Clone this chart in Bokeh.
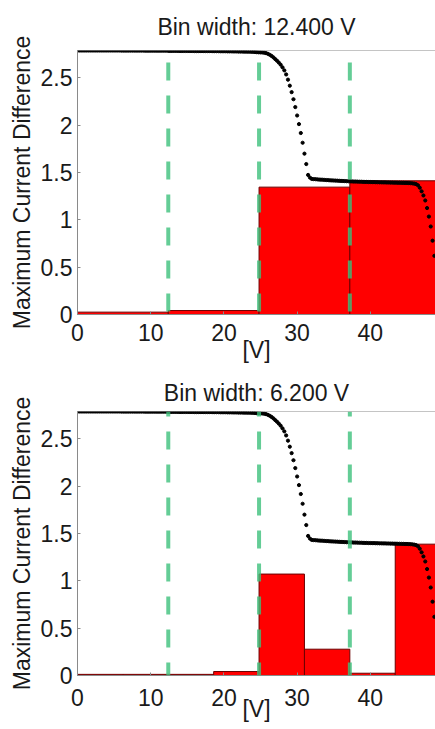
from bokeh.plotting import figure
from bokeh.layouts import column
from bokeh.models import (Range1d, FixedTicker, CustomJSTickFormatter,
                          Whisker, ColumnDataSource, Span)
from bokeh.embed import file_html
from bokeh.resources import INLINE
import numpy as np

# ---------------- data ----------------
sweep_step = 0.25  # V between sweep samples
current_diff = [
    # 0 .. 5.75 V
    2.790, 2.790, 2.790, 2.790, 2.790, 2.790, 2.790, 2.790, 2.790, 2.790, 2.790, 2.790,
    2.790, 2.790, 2.790, 2.790, 2.790, 2.790, 2.790, 2.790, 2.790, 2.790, 2.790, 2.790,
    # 6 .. 12.25 V
    2.789, 2.789, 2.789, 2.789, 2.789, 2.789, 2.789, 2.789, 2.789, 2.789, 2.789, 2.789, 2.789,
    2.788, 2.788, 2.788, 2.788, 2.788, 2.788, 2.788, 2.788, 2.788, 2.788, 2.788, 2.788, 2.788,
    # 12.5 .. 18.25 V
    2.786, 2.786, 2.786, 2.786, 2.786, 2.786, 2.785, 2.785, 2.785, 2.785, 2.785, 2.785,
    2.785, 2.785, 2.784, 2.784, 2.784, 2.784, 2.784, 2.784, 2.784, 2.784, 2.784, 2.784,
    # 18.5 .. 24.0 V
    2.783, 2.783, 2.783, 2.783, 2.782, 2.782, 2.782, 2.782, 2.781, 2.781, 2.781, 2.780,
    2.780, 2.780, 2.779, 2.779, 2.779, 2.778, 2.778, 2.777, 2.777, 2.776, 2.776,
    # 24.25 .. 32.0 V
    2.774, 2.772, 2.771, 2.770, 2.769, 2.767, 2.762, 2.755, 2.745, 2.733, 2.718, 2.700,
    2.682, 2.662, 2.640, 2.612, 2.580, 2.537, 2.482, 2.418, 2.350, 2.275, 2.192, 2.103,
    2.012, 1.918, 1.815, 1.700, 1.590, 1.475, 1.447, 1.433,
    # 32.25 .. 45.75 V
    1.431, 1.430, 1.428, 1.426, 1.425, 1.424, 1.422, 1.421, 1.420, 1.418, 1.417, 1.416,
    1.415, 1.414, 1.413, 1.412, 1.411, 1.410, 1.409, 1.408, 1.407, 1.406, 1.405, 1.405,
    1.404, 1.403, 1.403, 1.402, 1.401, 1.401, 1.400, 1.400, 1.399, 1.399, 1.398, 1.398,
    1.397, 1.397, 1.396, 1.396, 1.395, 1.395, 1.394, 1.394, 1.393, 1.393, 1.392, 1.392,
    1.391, 1.391, 1.390, 1.390, 1.389, 1.388, 1.386,
    # 46.0 .. 48.75 V
    1.383, 1.378, 1.366, 1.340, 1.302, 1.258, 1.205, 1.125, 1.035, 0.930, 0.780, 0.620,
]
volts = np.arange(len(current_diff)) * sweep_step

coarse_edges = [0, 12.4, 24.8, 37.2, 49.6]
coarse_heights = [0.025, 0.042, 1.346, 1.413]
fine_edges = [0, 6.2, 12.4, 18.6, 24.8, 31.0, 37.2, 43.4, 49.6]
fine_heights = [0.012, 0.012, 0.012, 0.042, 1.072, 0.278, 0.024, 1.388]
marker_volts = [12.4, 24.8, 37.2]

titles = ["Bin width: 12.400 V", "Bin width: 6.200 V"]
x_ticks = [0, 10, 20, 30, 40]
y_ticks = [0, 0.5, 1, 1.5, 2, 2.5]
x_label = "[V]"
y_label = "Maximum Current Difference"

# ---------------- styling ----------------
FONT = "Liberation Sans"
FS = "23px"
GRAY = "#8a8a8a"
TEXT = "#1a1a1a"
GREEN = "#3dc07c"
RED = "#ff0000"
EDGE = "#6b0000"
X_END, Y_END = 48.9, 2.79


def make_panel(title, edges, heights, height, min_top, min_bottom, title_standoff,
               dash_from, dash_offset, tick_standoff, label_standoff):
    p = figure(width=435, height=height,
               min_border_left=77, min_border_right=0,
               min_border_top=min_top, min_border_bottom=min_bottom,
               x_range=Range1d(0, X_END), y_range=Range1d(0, Y_END),
               output_backend="svg", toolbar_location=None, title=title)
    p.outline_line_color = None
    p.background_fill_color = "white"
    p.border_fill_color = "white"
    p.grid.visible = False

    p.title.text_font = FONT
    p.title.text_font_size = FS
    p.title.text_font_style = "normal"
    p.title.text_color = TEXT
    p.title.align = "center"
    p.title.vertical_align = "top"
    p.title.standoff = title_standoff

    p.quad(left=edges[:-1], right=edges[1:], bottom=0, top=heights,
           fill_color=RED, line_color=EDGE, line_width=1)

    src = ColumnDataSource(dict(x=marker_volts,
                                y0=[dash_from] * len(marker_volts),
                                y1=[0] * len(marker_volts)))
    p.add_layout(Whisker(base="x", lower="y0", upper="y1", source=src,
                         dimension="height", lower_head=None, upper_head=None,
                         line_color=GREEN, line_alpha=0.8, line_width=4,
                         line_dash="18 15", line_dash_offset=dash_offset,
                         level="annotation"))

    p.scatter(volts, current_diff, size=3.2, color="black", marker="circle")

    # top border of the box
    p.add_layout(Span(location=Y_END, dimension="width",
                      line_color=GRAY, line_width=1))

    xa = p.xaxis[0]
    xa.ticker = FixedTicker(ticks=x_ticks)
    xa.axis_label = x_label
    xa.major_label_standoff = tick_standoff
    xa.axis_label_standoff = label_standoff

    ya = p.yaxis[0]
    ya.ticker = FixedTicker(ticks=y_ticks)
    ya.formatter = CustomJSTickFormatter(code="return String(tick)")
    ya.axis_label = y_label
    ya.major_label_standoff = 5
    ya.axis_label_standoff = 3

    for ax in (xa, ya):
        ax.axis_line_color = GRAY
        ax.major_tick_line_color = GRAY
        ax.major_tick_in = 3
        ax.major_tick_out = 0
        ax.minor_tick_line_color = None
        ax.major_label_text_font = FONT
        ax.major_label_text_font_size = FS
        ax.major_label_text_color = TEXT
        ax.axis_label_text_font = FONT
        ax.axis_label_text_font_size = FS
        ax.axis_label_text_font_style = "normal"
        ax.axis_label_text_color = TEXT
    return p


p1 = make_panel(titles[0], coarse_edges, coarse_heights, 371, 50, 57, 18,
                2.663, 0, 9, -7)
p2 = make_panel(titles[1], fine_edges, fine_heights, 358, 40, 54, 8,
                Y_END, 13, 13, -13)

layout = column(p1, p2, spacing=0)
open("out.html", "w").write(file_html(layout, INLINE))
